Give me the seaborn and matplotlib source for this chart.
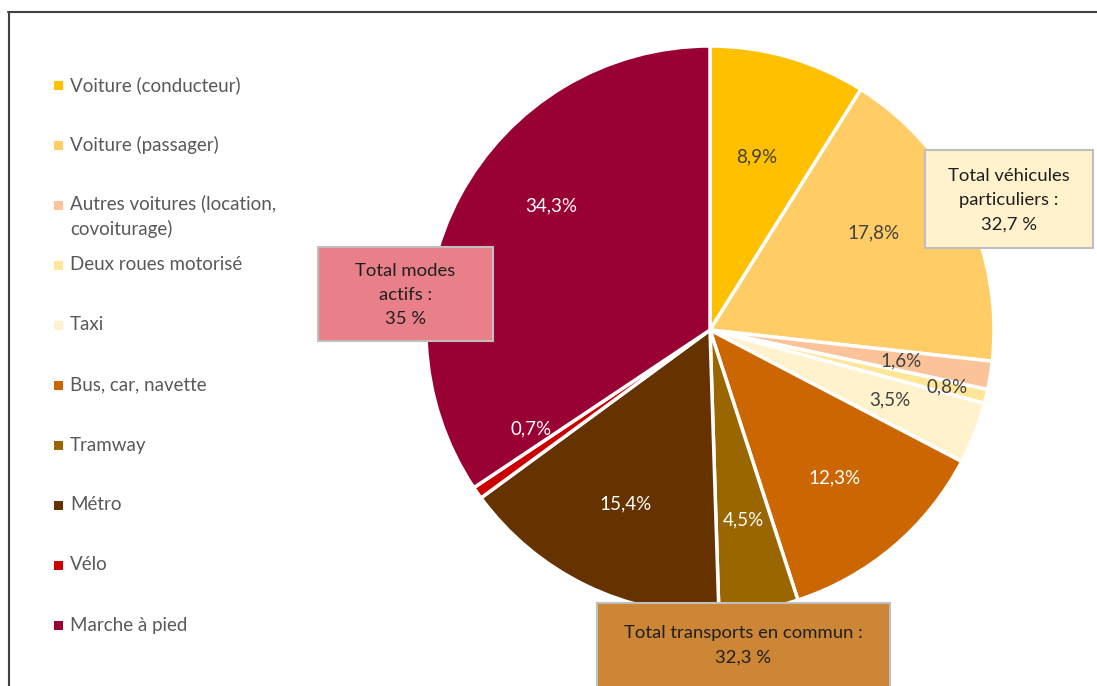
import numpy as np
import matplotlib
matplotlib.use("Agg")
import matplotlib.pyplot as plt
from matplotlib.patches import Rectangle
from matplotlib.lines import Line2D
import seaborn as sns

sns.set_theme(style="white")
plt.rcParams["font.family"] = ["Lato", "DejaVu Sans"]

# data
modes = [
    "Voiture (conducteur)",
    "Voiture (passager)",
    "Autres voitures (location,\ncovoiturage)",
    "Deux roues motorisé",
    "Taxi",
    "Bus, car, navette",
    "Tramway",
    "Métro",
    "Vélo",
    "Marche à pied",
]
shares = [8.9, 17.8, 1.6, 0.8, 3.5, 12.3, 4.5, 15.4, 0.7, 34.3]
colors = ["#FFC000", "#FFCC66", "#FBC39A", "#FFE699", "#FFF2CC",
          "#CC6600", "#996600", "#663300", "#CC0000", "#990033"]
label_colors = ["#404040"] * 5 + ["white"] * 5

groups = ["Total véhicules\nparticuliers :\n32,7 %",
          "Total modes\nactifs :\n35 %",
          "Total transports en commun :\n32,3 %"]
group_colors = ["#FFF2CC", "#E97F88", "#CC8636"]

# label placement tweaks: index -> (radius, clockwise shift in degrees)
label_tweaks = {0: (0.63, -1), 1: (0.67, -5), 3: (0.86, 0), 8: (0.72, 6), 9: (0.71, 10)}

W, H = 1097, 686
fig = plt.figure(figsize=(W / 100, H / 100), dpi=100)


def px(x, y):
    return x / W, 1 - y / H


cx, cy, r = 710, 330, 284
x0, y0 = px(cx - r, cy + r)
ax = fig.add_axes([x0, y0, 2 * r / W, 2 * r / H])
wedges, texts, autotexts = ax.pie(
    shares,
    colors=colors,
    startangle=90,
    counterclock=False,
    autopct="%1.1f",
    pctdistance=0.68,
    wedgeprops=dict(edgecolor="white", linewidth=2.5),
)
for i, (w, t, v, c) in enumerate(zip(wedges, autotexts, shares, label_colors)):
    t.set_text(f"{v:.1f}%".replace(".", ","))
    t.set_color(c)
    t.set_fontsize(13.5)
    if i in label_tweaks:
        dist, shift = label_tweaks[i]
        ang = np.deg2rad((w.theta1 + w.theta2) / 2 - shift)
        t.set_position((dist * np.cos(ang), dist * np.sin(ang)))
ax.set_xlim(-1, 1)
ax.set_ylim(-1, 1)
ax.set_aspect("auto")
ax.axis("off")

# legend on the left, one row every 60 px
for i, (m, c) in enumerate(zip(modes, colors)):
    ly = 85 + 60 * i
    sx, sy = px(54, ly + 5)
    fig.add_artist(Rectangle((sx, sy), 9 / W, 9 / H, transform=fig.transFigure,
                             facecolor=c, edgecolor="none"))
    if "\n" in m:
        tx, ty = px(70, ly - 11)
        fig.text(tx, ty, m, color="#595959", fontsize=13.5, va="top", linespacing=1.55)
    else:
        tx, ty = px(70, ly)
        fig.text(tx, ty, m, color="#595959", fontsize=13.5, va="center")

# summary boxes
boxes = [(925, 150, 168, 98), (318, 247, 175, 94), (597, 603, 293, 90)]
for (bx, by, bw, bh), txt, fc in zip(boxes, groups, group_colors):
    rx, ry = px(bx, by + bh)
    fig.add_artist(Rectangle((rx, ry), bw / W, bh / H, transform=fig.transFigure,
                             facecolor=fc, edgecolor="#BFBFBF", linewidth=1.5))
    tx, ty = px(bx + bw / 2, by + (bh if by + bh < H else H - by) / 2 + 1)
    fig.text(tx, ty, txt, ha="center", va="center", fontsize=13.3,
             color="#1F1F1F", linespacing=1.65)

# outer frame (top and left edges)
fig.add_artist(Line2D([8 / W, 1], [1 - 12 / H] * 2, transform=fig.transFigure,
                      color="#404040", linewidth=1.5))
fig.add_artist(Line2D([9 / W] * 2, [0, 1 - 12 / H], transform=fig.transFigure,
                      color="#404040", linewidth=1.5))

fig.savefig("out.png", dpi=100, facecolor="white")
